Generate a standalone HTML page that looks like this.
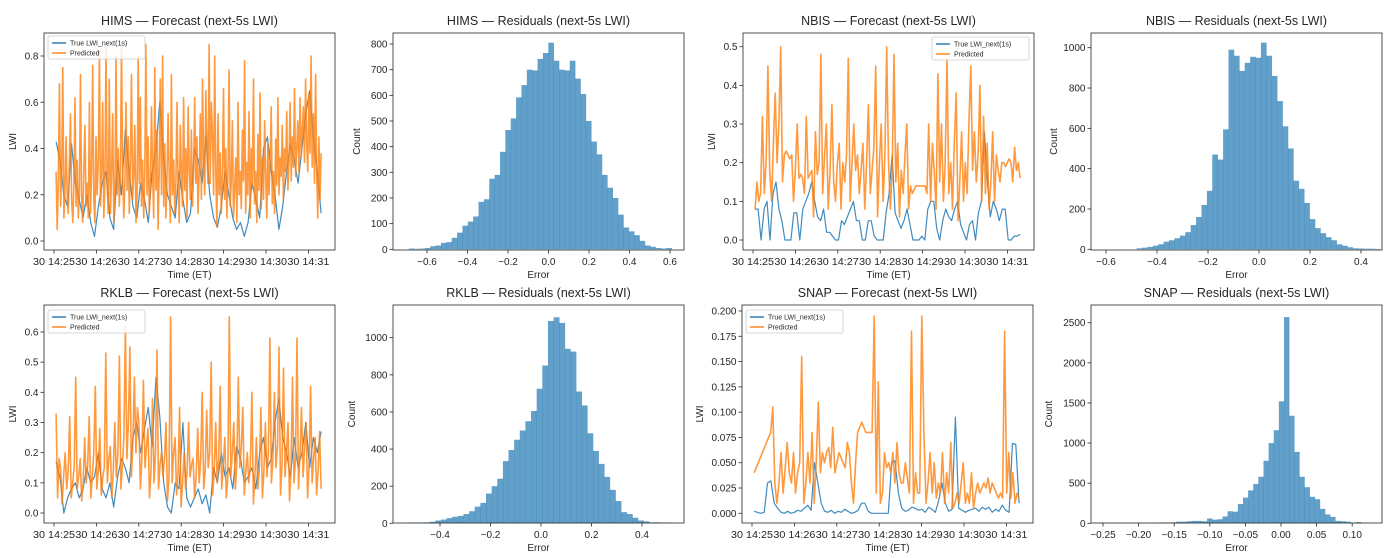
<!DOCTYPE html>
<html><head><meta charset="utf-8"><style>
html,body{margin:0;padding:0;background:#fff;}
svg{display:block;font-family:"Liberation Sans","DejaVu Sans",sans-serif;}
</style></head><body>
<svg id="fig" width="1398" height="558" viewBox="0 0 1398 558" xmlns="http://www.w3.org/2000/svg"></svg>
<script>
const timeTickLabels = ["30 14:25","30 14:26","30 14:27","30 14:28","30 14:29","30 14:30","30 14:31"];
const himsPred = [0.30,0.05,0.25,0.68,0.15,0.30,0.75,0.10,0.22,0.45,0.20,0.12,0.35,0.55,0.18,0.08,0.25,0.62,0.15,0.35,0.10,0.20,0.72,0.20,0.08,0.30,0.50,0.15,0.25,0.10,0.60,0.12,0.30,0.76,0.18,0.08,0.45,0.20,0.35,0.82,0.15,0.28,0.60,0.10,0.25,0.84,0.25,0.12,0.70,0.12,0.30,0.55,0.08,0.20,0.80,0.20,0.40,0.15,0.30,0.86,0.30,0.10,0.25,0.60,0.22,0.45,0.12,0.35,0.72,0.18,0.28,0.50,0.08,0.20,0.80,0.25,0.62,0.15,0.35,0.10,0.30,0.85,0.20,0.45,0.12,0.25,0.58,0.30,0.10,0.75,0.22,0.48,0.05,0.30,0.70,0.20,0.80,0.15,0.42,0.10,0.28,0.55,0.28,0.08,0.72,0.20,0.35,0.12,0.25,0.60,0.25,0.08,0.50,0.30,0.15,0.62,0.22,0.40,0.10,0.58,0.32,0.18,0.48,0.15,0.30,0.62,0.25,0.45,0.12,0.30,0.55,0.18,0.70,0.35,0.20,0.65,0.40,0.25,0.85,0.25,0.60,0.45,0.20,0.80,0.30,0.06,0.55,0.20,0.38,0.12,0.28,0.66,0.18,0.40,0.10,0.32,0.74,0.15,0.26,0.52,0.10,0.22,0.36,0.08,0.60,0.20,0.30,0.14,0.48,0.26,0.78,0.12,0.34,0.20,0.56,0.10,0.40,0.24,0.70,0.16,0.30,0.08,0.46,0.22,0.64,0.14,0.36,0.18,0.52,0.28,0.10,0.42,0.20,0.34,0.58,0.16,0.30,0.12,0.44,0.24,0.62,0.20,0.36,0.28,0.50,0.18,0.40,0.30,0.56,0.22,0.34,0.60,0.26,0.45,0.32,0.66,0.28,0.40,0.52,0.30,0.62,0.36,0.48,0.58,0.34,0.70,0.42,0.30,0.64,0.38,0.80,0.32,0.55,0.25,0.72,0.30,0.10,0.45,0.18,0.38];
const himsTrue = [0.43,0.35,0.20,0.15,0.42,0.25,0.18,0.10,0.20,0.08,0.02,0.15,0.25,0.30,0.10,0.05,0.35,0.20,0.48,0.30,0.15,0.10,0.25,0.18,0.08,0.30,0.40,0.60,0.35,0.20,0.15,0.10,0.30,0.18,0.08,0.12,0.40,0.35,0.25,0.45,0.20,0.10,0.06,0.15,0.30,0.20,0.10,0.05,0.08,0.02,0.08,0.25,0.18,0.10,0.40,0.45,0.30,0.20,0.05,0.15,0.30,0.42,0.35,0.25,0.40,0.55,0.65,0.45,0.30,0.12];
const nbisPred = [0.08,0.15,0.10,0.12,0.32,0.12,0.20,0.45,0.18,0.10,0.25,0.38,0.20,0.30,0.50,0.15,0.22,0.23,0.22,0.21,0.22,0.10,0.18,0.30,0.16,0.17,0.16,0.12,0.32,0.16,0.17,0.18,0.06,0.28,0.17,0.20,0.48,0.12,0.22,0.30,0.08,0.18,0.35,0.15,0.10,0.20,0.25,0.08,0.20,0.15,0.22,0.47,0.10,0.20,0.30,0.18,0.22,0.12,0.18,0.25,0.08,0.20,0.35,0.12,0.18,0.24,0.45,0.06,0.20,0.30,0.10,0.22,0.50,0.20,0.08,0.18,0.48,0.15,0.25,0.06,0.18,0.12,0.22,0.30,0.08,0.14,0.12,0.13,0.14,0.14,0.14,0.14,0.14,0.14,0.12,0.30,0.10,0.25,0.18,0.08,0.43,0.15,0.30,0.10,0.20,0.47,0.12,0.20,0.08,0.25,0.38,0.05,0.15,0.28,0.10,0.20,0.12,0.30,0.45,0.18,0.28,0.15,0.22,0.40,0.10,0.32,0.12,0.25,0.08,0.15,0.28,0.10,0.22,0.18,0.15,0.20,0.20,0.19,0.20,0.21,0.20,0.15,0.24,0.18,0.20,0.16];
const nbisTrue = [0.08,0.08,0.0,0.08,0.10,0.0,0.12,0.15,0.08,0.05,0.0,0.0,0.0,0.07,0.07,0.0,0.08,0.10,0.12,0.15,0.10,0.06,0.05,0.08,0.02,0.02,0.01,0.0,0.0,0.05,0.04,0.06,0.08,0.10,0.05,0.05,0.0,0.0,0.05,0.05,0.01,0.0,0.0,0.0,0.07,0.12,0.22,0.07,0.05,0.03,0.05,0.08,0.04,0.0,0.0,0.0,0.01,0.0,0.08,0.10,0.10,0.03,0.0,0.05,0.08,0.06,0.05,0.08,0.10,0.04,0.02,0.0,0.04,0.05,0.0,0.07,0.10,0.28,0.15,0.06,0.10,0.08,0.05,0.08,0.08,0.0,0.0,0.01,0.01,0.015];
const rklbPred = [0.33,0.05,0.18,0.15,0.03,0.12,0.20,0.08,0.14,0.32,0.05,0.10,0.15,0.45,0.08,0.12,0.18,0.04,0.10,0.25,0.10,0.16,0.32,0.05,0.12,0.20,0.42,0.08,0.14,0.28,0.06,0.12,0.15,0.53,0.10,0.18,0.22,0.05,0.14,0.30,0.12,0.20,0.52,0.08,0.16,0.25,0.62,0.18,0.30,0.55,0.12,0.24,0.45,0.20,0.35,0.30,0.08,0.18,0.44,0.15,0.22,0.28,0.05,0.14,0.38,0.10,0.20,0.54,0.08,0.16,0.20,0.12,0.18,0.30,0.04,0.12,0.65,0.10,0.20,0.25,0.06,0.14,0.35,0.02,0.10,0.20,0.08,0.14,0.30,0.12,0.16,0.18,0.05,0.12,0.28,0.10,0.18,0.40,0.08,0.14,0.34,0.15,0.20,0.50,0.06,0.14,0.30,0.10,0.18,0.42,0.08,0.16,0.25,0.05,0.12,0.65,0.12,0.20,0.30,0.08,0.16,0.45,0.15,0.22,0.35,0.06,0.14,0.20,0.10,0.16,0.40,0.03,0.12,0.25,0.08,0.15,0.35,0.05,0.14,0.30,0.12,0.20,0.58,0.10,0.18,0.40,0.15,0.22,0.55,0.06,0.16,0.48,0.12,0.20,0.30,0.04,0.14,0.45,0.10,0.18,0.58,0.08,0.20,0.35,0.12,0.22,0.30,0.05,0.16,0.42,0.10,0.18,0.25,0.06,0.14,0.27,0.08];
const rklbTrue = [0.17,0.12,0.0,0.05,0.08,0.10,0.05,0.08,0.15,0.10,0.12,0.20,0.08,0.05,0.10,0.02,0.12,0.18,0.15,0.10,0.25,0.30,0.20,0.28,0.35,0.22,0.45,0.32,0.10,0.02,0.0,0.10,0.08,0.30,0.05,0.02,0.05,0.08,0.03,0.06,0.0,0.15,0.10,0.20,0.12,0.15,0.08,0.22,0.18,0.10,0.12,0.15,0.08,0.20,0.25,0.15,0.18,0.30,0.38,0.25,0.20,0.12,0.25,0.15,0.20,0.30,0.15,0.25,0.20,0.27];
const snapPred = [0.040,0.045,0.050,0.055,0.060,0.065,0.070,0.075,0.080,0.105,0.030,0.010,0.030,0.060,0.020,0.045,0.070,0.040,0.030,0.060,0.020,0.040,0.050,0.155,0.010,0.030,0.060,0.030,0.080,0.010,0.050,0.110,0.040,0.060,0.050,0.060,0.065,0.045,0.085,0.040,0.050,0.060,0.055,0.050,0.045,0.070,0.060,0.030,0.010,0.050,0.080,0.085,0.090,0.085,0.080,0.080,0.080,0.080,0.195,0.020,0.130,0.010,0.020,0.060,0.045,0.050,0.040,0.060,0.030,0.070,0.040,0.030,0.030,0.050,0.035,0.020,0.180,0.010,0.040,0.020,0.020,0.195,0.080,0.010,0.030,0.060,0.020,0.050,0.015,0.030,0.020,0.060,0.010,0.040,0.020,0.070,0.005,0.010,0.020,0.010,0.030,0.050,0.010,0.020,0.010,0.040,0.005,0.020,0.030,0.020,0.025,0.030,0.025,0.035,0.020,0.030,0.025,0.020,0.015,0.020,0.015,0.180,0.020,0.060,0.015,0.040,0.010,0.020,0.015];
const snapTrue = [0.002,0.001,0.000,0.001,0.030,0.032,0.010,0.005,0.001,0.000,0.002,0.000,0.001,0.003,0.002,0.005,0.008,0.003,0.050,0.030,0.010,0.002,0.001,0.003,0.000,0.002,0.001,0.004,0.002,0.000,0.001,0.003,0.010,0.010,0.002,0.000,0.000,0.000,0.000,0.000,0.000,0.050,0.052,0.020,0.005,0.002,0.003,0.006,0.005,0.003,0.004,0.001,0.006,0.004,0.001,0.012,0.030,0.010,0.002,0.004,0.095,0.005,0.003,0.001,0.003,0.004,0.005,0.002,0.006,0.004,0.006,0.001,0.004,0.002,0.008,0.003,0.001,0.069,0.068,0.010];
const himsCounts = [3,2,3,5,12,15,25,28,45,65,92,108,128,185,195,275,290,380,465,510,592,640,700,697,742,765,805,735,700,697,735,665,605,500,420,370,290,240,200,135,85,70,55,33,15,10,5,3,5];
const nbisCounts = [5,8,12,18,25,38,45,55,68,85,120,160,220,290,470,445,595,990,960,885,925,955,950,1025,960,860,735,610,500,340,300,230,150,105,80,60,45,25,18,10,5,4,3,3,2];
const rklbCounts = [3,3,3,5,8,15,20,28,35,40,50,65,90,110,160,200,240,335,395,450,500,550,605,725,850,1090,1110,1080,940,925,710,635,485,390,320,250,180,120,60,50,30,15,10,5,5,3,3];
const snapCounts = [5,5,5,5,5,5,5,5,5,5,5,8,10,10,12,20,20,25,30,30,25,60,45,50,85,150,145,240,320,410,490,580,780,1000,1160,1520,2570,1340,890,580,450,330,300,180,110,80,30,25,20,5,15,5];
const himsLwiTicks = [0,0.2,0.4,0.6,0.8];
const nbisLwiTicks = [0,0.1,0.2,0.3,0.4,0.5];
const rklbLwiTicks = [0,0.1,0.2,0.3,0.4,0.5,0.6];
const snapLwiTicks = [0,0.025,0.05,0.075,0.1,0.125,0.15,0.175,0.2];
const himsErrTicks = [-0.6,-0.4,-0.2,0,0.2,0.4,0.6];
const nbisErrTicks = [-0.6,-0.4,-0.2,0,0.2,0.4];
const rklbErrTicks = [-0.4,-0.2,0,0.2,0.4];
const snapErrTicks = [-0.25,-0.2,-0.15,-0.1,-0.05,0,0.05,0.1];
const himsCountTicks = [0,100,200,300,400,500,600,700,800];
const nbisCountTicks = [0,200,400,600,800,1000];
const rklbCountTicks = [0,200,400,600,800,1000];
const snapCountTicks = [0,500,1000,1500,2000,2500];

const NS="http://www.w3.org/2000/svg";
const fig=document.getElementById('fig');
function mk(tag,attrs,parent){const e=document.createElementNS(NS,tag);for(const k in attrs)e.setAttribute(k,attrs[k]);(parent||fig).appendChild(e);return e;}
function txt(s,x,y,size,anchor,parent,rot){const t=mk('text',{x:x,y:y,'font-size':size,'text-anchor':anchor||'middle',fill:'#262626'},parent);if(rot)t.setAttribute('transform','rotate(-90 '+x+' '+y+')');t.textContent=s;return t;}
function fmt(v,d){const s=Math.abs(v)<1e-9?(0).toFixed(d):v.toFixed(d);return s.replace('-','\u2212');}

const GREY='#262626';
function frame(g,L,T,R,B){const r=mk('rect',{x:L,y:T,width:R-L,height:B-T,fill:'none',stroke:GREY,'stroke-width':0.8},g);}

function yTicks(g,L,ticks,yFn,dec){ticks.forEach(v=>{const y=yFn(v);mk('line',{x1:L-3.5,x2:L,y1:y,y2:y,stroke:GREY,'stroke-width':0.8},g);const t=txt(fmt(v,dec),L-5.5,y+3.5,10,'end',g);});}
function xTicks(g,B,ticks,xFn,labels,base,tl){ticks.forEach((v,i)=>{const x=xFn(v);mk('line',{x1:x,x2:x,y1:B,y2:B+3.5,stroke:GREY,'stroke-width':0.8},g);const t=txt(labels[i],x,base,10,'middle',g);if(tl){t.setAttribute('textLength',tl);t.setAttribute('lengthAdjust','spacingAndGlyphs');}});}

function forecast(o){
  const g=mk('g',{});
  
  
  const L=o.L,R=L+291,T=o.T,B=o.B;
  const xFn=t=>L+10+t*42.4;
  const yFn=v=>o.y0-v*o.k;
  const t0=0.05,t1=6.3;
  function path(arr,color,nm,op,sw){let d='';arr.forEach((v,i)=>{const t=t0+i*(t1-t0)/(arr.length-1);d+=(i?'L':'M')+xFn(t).toFixed(1)+','+yFn(v).toFixed(1);});const p=mk('path',{d:d,fill:'none',stroke:color,'stroke-width':sw,'stroke-opacity':op,'stroke-linejoin':'round'},g);}
  path(o.tru,'#1f77b4','true-lwi-line',0.85,1.2);
  path(o.pred,'#ff7f0e','predicted-line',0.8,1.6);
  frame(g,L,T,R,B);
  yTicks(g,L,o.yt,yFn,o.dec);
  xTicks(g,B,[0,1,2,3,4,5,6],xFn,timeTickLabels,B+15,42);
  const tt=txt(o.title,(L+R)/2,T-8,12.5,'middle',g);
  const xl=txt('Time (ET)',(L+R)/2,B+28,10,'middle',g);
  const yl=txt('LWI',o.ylx,(T+B)/2,10,'middle',g,true);
  const lg=mk('g',{},g);
  const lx=o.lx,ly=o.ly;
  mk('rect',{x:lx,y:ly,width:97,height:23,rx:2,fill:'#fff','fill-opacity':0.8,stroke:'#ccc','stroke-width':0.8},lg);
  mk('line',{x1:lx+4,x2:lx+18,y1:ly+7,y2:ly+7,stroke:'#1f77b4','stroke-width':1.4},lg);
  mk('line',{x1:lx+4,x2:lx+18,y1:ly+17,y2:ly+17,stroke:'#ff7f0e','stroke-width':1.4},lg);
  const a=txt('True LWI_next(1s)',lx+22,ly+9.5,7,'start',lg);
  const b=txt('Predicted',lx+22,ly+19.5,7,'start',lg);
}

function hist(o){
  const g=mk('g',{});
  
  
  const L=o.L,R=L+291,T=o.T,B=o.B;
  const xFn=v=>o.x0+v*o.kx;
  const yFn=c=>o.y0-c*o.ky;
  o.counts.forEach((c,i)=>{const a=xFn(o.start+i*o.w),b=xFn(o.start+(i+1)*o.w);const r=mk('rect',{x:a,y:yFn(c),width:b-a+0.3,height:o.y0-yFn(c),fill:'#1f77b4','fill-opacity':0.7},g);});
  frame(g,L,T,R,B);
  yTicks(g,L,o.yt,yFn,0);
  xTicks(g,B,o.xt,xFn,o.xt.map(v=>fmt(v,o.xdec)),B+15,0);
  const tt=txt(o.title,(L+R)/2,T-8,12.5,'middle',g);
  const xl=txt('Error',(L+R)/2,B+28,10,'middle',g);
  const yl=txt('Count',o.ylx,(T+B)/2,10,'middle',g,true);
}

forecast({name:'hims-forecast-panel',title:'HIMS \u2014 Forecast (next-5s LWI)',L:44,T:33,B:250,y0:241,k:231.25,yt:himsLwiTicks,dec:1,pred:himsPred,tru:himsTrue,ylx:16,lx:48,ly:36});
hist({name:'hims-residuals-panel',title:'HIMS \u2014 Residuals (next-5s LWI)',L:393,T:33,B:250,y0:249.3,ky:0.2566,x0:548.5,kx:202.5,start:-0.69,w:0.0265,counts:himsCounts,yt:himsCountTicks,xt:himsErrTicks,xdec:1,ylx:360});
forecast({name:'nbis-forecast-panel',title:'NBIS \u2014 Forecast (next-5s LWI)',L:743,T:33,B:250,y0:240,k:386.6,yt:nbisLwiTicks,dec:1,pred:nbisPred,tru:nbisTrue,ylx:715,lx:932,ly:37});
hist({name:'nbis-residuals-panel',title:'NBIS \u2014 Residuals (next-5s LWI)',L:1091,T:33,B:250,y0:249.3,ky:0.2016,x0:1259,kx:255,start:-0.48,w:0.0212,counts:nbisCounts,yt:nbisCountTicks,xt:nbisErrTicks,xdec:1,ylx:1057});
forecast({name:'rklb-forecast-panel',title:'RKLB \u2014 Forecast (next-5s LWI)',L:44,T:305,B:523,y0:513,k:301.7,yt:rklbLwiTicks,dec:1,pred:rklbPred,tru:rklbTrue,ylx:16,lx:48,ly:310});
hist({name:'rklb-residuals-panel',title:'RKLB \u2014 Residuals (next-5s LWI)',L:393,T:305,B:523,y0:523.3,ky:0.1856,x0:541,kx:252.5,start:-0.53,w:0.0223,counts:rklbCounts,yt:rklbCountTicks,xt:rklbErrTicks,xdec:1,ylx:355});
forecast({name:'snap-forecast-panel',title:'SNAP \u2014 Forecast (next-5s LWI)',L:742,T:305,B:523,y0:513.3,k:1011.5,yt:snapLwiTicks,dec:3,pred:snapPred,tru:snapTrue,ylx:703,lx:746,ly:310});
hist({name:'snap-residuals-panel',title:'SNAP \u2014 Residuals (next-5s LWI)',L:1091,T:305,B:523,y0:523.3,ky:0.08024,x0:1281,kx:712,start:-0.255,w:0.0072,counts:snapCounts,yt:snapCountTicks,xt:snapErrTicks,xdec:2,ylx:1052});
</script>
</body></html>
